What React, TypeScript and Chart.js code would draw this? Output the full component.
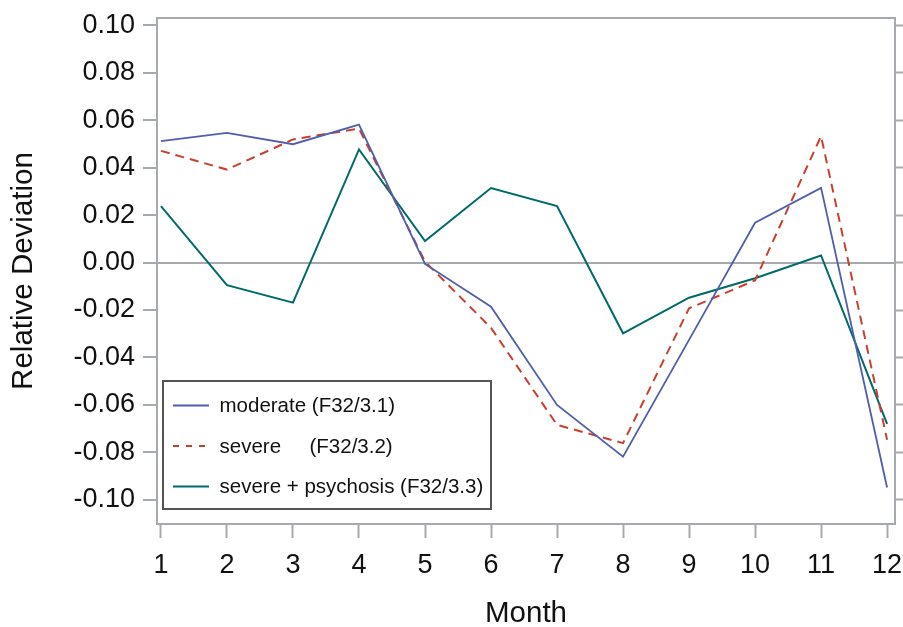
import React, { useEffect, useRef } from "react";
import { Chart, registerables } from "chart.js";

Chart.register(...registerables);

const months = [1, 2, 3, 4, 5, 6, 7, 8, 9, 10, 11, 12];
const moderate = [0.0512, 0.0547, 0.0499, 0.0582, -0.0006, -0.0186, -0.06, -0.0818, -0.0326, 0.0168, 0.0315, -0.0948];
const severe = [0.0471, 0.0392, 0.0519, 0.0565, 0.0004, -0.0275, -0.0684, -0.0761, -0.0193, -0.0075, 0.0533, -0.0747];
const psychosis = [0.0238, -0.0095, -0.0169, 0.0477, 0.0091, 0.0314, 0.0238, -0.0298, -0.0148, -0.0066, 0.003, -0.068];
const seriesLabels = ["moderate (F32/3.1)", "severe     (F32/3.2)", "severe + psychosis (F32/3.3)"];
const yTicks = [-0.1, -0.08, -0.06, -0.04, -0.02, 0, 0.02, 0.04, 0.06, 0.08, 0.1];
const xTicks = months;
const xTitle = "Month";
const yTitle = "Relative Deviation";

const FONT = "'Liberation Sans', Arial, Helvetica, sans-serif";
const AXIS_GRAY = "#a6aaae";

const framePlugin = {
  id: "frame",
  afterDatasetsDraw(chart: any) {
    const { ctx, chartArea } = chart;
    const { left, top, right, bottom } = chartArea;
    ctx.save();
    ctx.strokeStyle = AXIS_GRAY;
    ctx.lineWidth = 2;
    ctx.strokeRect(left, top, right - left, bottom - top);
    ctx.restore();
  },
};

const legendPlugin = {
  id: "insideLegend",
  afterDraw(chart: any) {
    const { ctx, chartArea } = chart;
    const boxW = 328;
    const boxH = 128;
    const x0 = chartArea.left + 6;
    const y0 = chartArea.bottom - 15 - boxH;
    ctx.save();
    ctx.fillStyle = "#ffffff";
    ctx.fillRect(x0, y0, boxW, boxH);
    ctx.strokeStyle = "#555555";
    ctx.lineWidth = 2;
    ctx.strokeRect(x0, y0, boxW, boxH);
    ctx.font = `20.5px ${FONT}`;
    ctx.textBaseline = "middle";
    ctx.textAlign = "left";
    chart.data.datasets.forEach((ds: any, i: number) => {
      const cy = y0 + 24.5 + i * 40.5;
      ctx.beginPath();
      ctx.strokeStyle = ds.borderColor;
      ctx.lineWidth = ds.borderWidth;
      ctx.setLineDash(ds.borderDash ? [6, 7] : []);
      ctx.moveTo(x0 + 10, cy);
      ctx.lineTo(x0 + 46, cy);
      ctx.stroke();
      ctx.setLineDash([]);
      ctx.fillStyle = "#111111";
      ctx.fillText(ds.label, x0 + 56.5, cy + 1);
    });
    ctx.restore();
  },
};

export default function App() {
  const ref = useRef<HTMLCanvasElement | null>(null);

  useEffect(() => {
    if (!ref.current) return;
    const toPts = (arr: number[]) => months.map((m, i) => ({ x: m, y: arr[i] }));
    const chart = new Chart(ref.current, {
      type: "line",
      data: {
        datasets: [
          {
            label: seriesLabels[0],
            data: toPts(moderate),
            borderColor: "#4f5fae",
            borderWidth: 1.8,
            pointRadius: 0,
            tension: 0,
            fill: false,
          },
          {
            label: seriesLabels[1],
            data: toPts(severe),
            borderColor: "#c9402e",
            borderWidth: 2,
            borderDash: [9, 6],
            pointRadius: 0,
            tension: 0,
            fill: false,
          },
          {
            label: seriesLabels[2],
            data: toPts(psychosis),
            borderColor: "#006a6a",
            borderWidth: 2,
            pointRadius: 0,
            tension: 0,
            fill: false,
          },
        ],
      },
      options: {
        animation: false,
        responsive: false,
        maintainAspectRatio: false,
        events: [],
        layout: { padding: { top: 18, left: 0, right: 0, bottom: 0 } },
        plugins: {
          legend: { display: false },
          tooltip: { enabled: false },
          title: { display: false },
        },
        scales: {
          x: {
            type: "linear",
            min: 0.94,
            max: 12.12,
            afterBuildTicks: (scale: any) => {
              scale.ticks = xTicks.map((v) => ({ value: v }));
            },
            afterFit: (scale: any) => {
              scale.height = 103;
              scale.paddingLeft = 0;
              scale.paddingRight = 0;
              scale.paddingTop = 0;
              scale.paddingBottom = 0;
            },
            border: { display: false },
            grid: {
              drawOnChartArea: false,
              drawTicks: true,
              tickLength: 14,
              tickColor: AXIS_GRAY,
              tickWidth: 2,
            },
            ticks: {
              color: "#111111",
              font: { family: FONT, size: 27 },
              padding: 11,
              maxRotation: 0,
              autoSkip: false,
              callback: (v: any) => String(v),
            },
            title: {
              display: true,
              text: xTitle,
              color: "#111111",
              font: { family: FONT, size: 29.5, lineHeight: 0.86 },
              padding: 0,
            },
          },
          y: {
            type: "linear",
            position: "left",
            min: -0.1102,
            max: 0.1031,
            afterBuildTicks: (scale: any) => {
              scale.ticks = yTicks.map((v) => ({ value: v }));
            },
            afterFit: (scale: any) => {
              scale.width = 157;
              scale.paddingLeft = 0;
              scale.paddingRight = 0;
              scale.paddingTop = 0;
              scale.paddingBottom = 0;
            },
            border: { display: false },
            grid: {
              drawOnChartArea: true,
              drawTicks: true,
              tickLength: 14,
              color: (ctx: any) => (ctx.tick && Math.abs(ctx.tick.value) < 1e-9 ? AXIS_GRAY : "rgba(0,0,0,0)"),
              lineWidth: 2,
              tickColor: AXIS_GRAY,
              tickWidth: 2,
            },
            ticks: {
              color: "#111111",
              font: { family: FONT, size: 27 },
              padding: 8,
              autoSkip: false,
              callback: (v: any) => Number(v).toFixed(2),
            },
            title: {
              display: true,
              text: yTitle,
              color: "#111111",
              font: { family: FONT, size: 29.5, lineHeight: 1.2 },
              padding: { top: 6, bottom: 0 },
            },
          },
          y2: {
            type: "linear",
            position: "right",
            min: -0.1102,
            max: 0.1031,
            afterBuildTicks: (scale: any) => {
              scale.ticks = yTicks.map((v) => ({ value: v }));
            },
            afterFit: (scale: any) => {
              scale.width = 8;
              scale.paddingLeft = 0;
              scale.paddingRight = 0;
              scale.paddingTop = 0;
              scale.paddingBottom = 0;
            },
            border: { display: false },
            grid: {
              drawOnChartArea: false,
              drawTicks: true,
              tickLength: 14,
              tickColor: AXIS_GRAY,
              tickWidth: 2,
            },
            ticks: { display: false },
          },
        },
      },
      plugins: [framePlugin, legendPlugin],
    } as any);
    return () => chart.destroy();
  }, []);

  return (
    <div style={{ position: "fixed", left: 0, top: 0, width: 903, height: 627, background: "#ffffff" }}>
      <canvas ref={ref} width={903} height={627} style={{ display: "block", width: 903, height: 627 }} />
    </div>
  );
}
